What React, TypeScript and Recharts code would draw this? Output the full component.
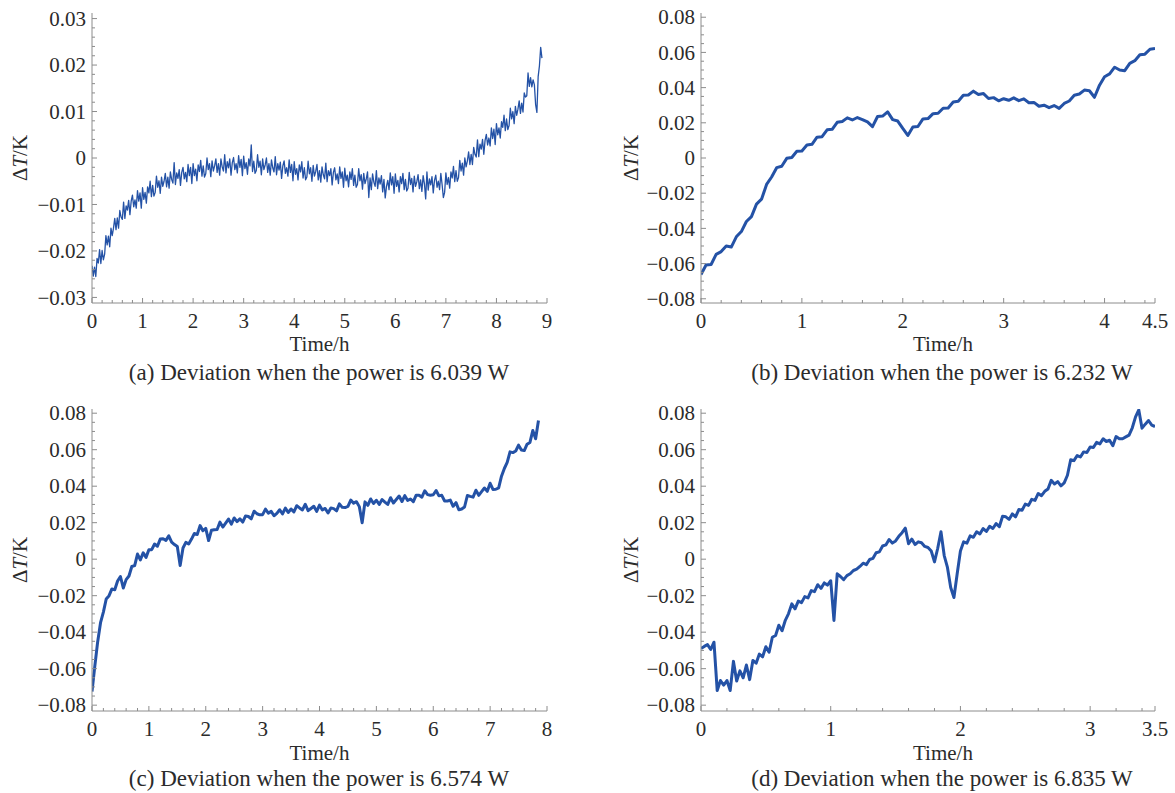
import { LineChart, Line, XAxis, YAxis } from "recharts";

const FONT = '"Liberation Serif", "Times New Roman", serif';
const LINE_COLOR = "#2452a6";
const FRAME_COLOR = "#8c8c8c";
const TEXT_COLOR = "#2b2b2b";

// (a) 6.039 W, read every 0.025 h (values in mK, converted below)
const stepA = 0.025;
const deviationA_mK = [
  -23.2, -25.4, -23.5, -25.5, -21.6, -22.6, -19.7, -22.7, -19.9, -21.9,
  -20.7, -16.7, -18.7, -16.8, -19.1, -15.1, -16.7, -15.1, -13.0, -15.4,
  -12.9, -15.1, -11.3, -12.7, -13.2, -9.5, -13.0, -10.3, -11.2, -9.1,
  -12.2, -9.3, -8.0, -10.5, -9.0, -10.8, -7.0, -9.3, -7.5, -10.8,
  -6.4, -8.9, -7.4, -9.7, -6.2, -7.5, -5.0, -8.3, -5.9, -8.2,
  -7.4, -3.9, -6.3, -4.9, -7.6, -4.1, -6.1, -5.0, -3.3, -6.2,
  -4.1, -6.5, -3.0, -4.6, -5.4, -1.0, -5.7, -3.2, -4.4, -2.5,
  -5.9, -3.1, -2.0, -4.5, -3.1, -5.1, -1.4, -3.8, -2.0, -5.5,
  -1.2, -3.8, -2.4, -4.9, -1.5, -2.9, -0.5, -3.9, -1.7, -4.1,
  -3.4, 0.0, -2.5, -1.2, -4.0, -0.6, -2.8, -1.7, -0.2, -3.1,
  -1.2, -3.7, -0.2, -1.9, -2.8, 0.7, -3.2, -0.8, -2.1, -0.2,
  -3.7, -1.0, 0.1, -2.5, -1.2, -3.2, 0.5, -2.0, -0.3, -3.8,
  0.4, -2.3, -1.0, -3.5, -0.2, -1.7, 2.8, -2.9, -0.7, -3.3,
  -2.7, 0.7, -2.0, -0.7, -3.6, -0.2, -2.5, -1.5, 0.0, -3.1,
  -1.2, -3.7, -0.4, -2.1, -3.0, 0.3, -3.6, -1.2, -2.6, -0.9,
  -4.4, -1.7, -0.6, -3.3, -2.1, -3.9, -0.4, -3.1, -1.4, -4.9,
  -0.8, -3.5, -2.3, -4.7, -1.5, -3.0, -0.8, -4.3, -2.1, -4.7,
  -4.1, -0.7, -3.4, -2.1, -5.0, -1.6, -3.9, -2.9, -1.4, -4.7,
  -2.7, -5.2, -1.9, -3.6, -4.5, -1.1, -5.1, -2.7, -3.8, -2.3,
  -5.8, -3.1, -2.1, -4.7, -3.4, -5.5, -1.9, -4.4, -3.0, -6.3,
  -2.2, -4.9, -3.7, -6.2, -3.0, -4.6, -2.3, -5.9, -3.7, -6.3,
  -5.7, -2.3, -4.9, -3.6, -6.7, -3.3, -5.5, -4.5, -3.0, -8.5,
  -4.3, -6.8, -3.4, -5.2, -6.1, -2.7, -6.6, -4.3, -5.6, -3.8,
  -7.3, -4.6, -8.6, -6.1, -4.8, -6.8, -3.2, -5.8, -4.0, -7.6,
  -3.4, -6.1, -4.8, -7.3, -4.0, -5.5, -3.3, -6.8, -4.6, -7.1,
  -6.5, -3.1, -5.7, -4.4, -7.3, -3.9, -6.1, -5.1, -3.6, -6.6,
  -4.7, -7.2, -3.8, -5.5, -8.8, -3.0, -6.9, -4.5, -5.8, -4.0,
  -7.5, -4.8, -3.7, -6.3, -5.0, -6.8, -3.3, -5.7, -8.5, -7.4,
  -3.2, -5.7, -4.2, -6.5, -3.0, -4.3, -1.8, -5.1, -2.7, -5.0,
  -4.2, -0.5, -2.8, -1.1, -3.7, 0.0, -1.9, -0.6, 1.3, -1.4,
  0.8, -1.4, 2.3, 0.8, 0.2, 3.9, 0.3, 3.0, 1.9, 4.0,
  0.8, 3.8, 5.1, 2.8, 4.3, 2.6, 6.5, 4.2, 6.2, 2.9,
  7.4, 5.0, 6.5, 4.3, 7.8, 6.6, 9.2, 5.9, 8.4, 6.1,
  7.0, 10.7, 8.4, 10.0, 7.4, 11.1, 9.2, 10.5, 12.3, 9.6,
  11.8, 9.9, 14.0, 13.1, 13.4, 18.3, 15.4, 17.3, 15.3, 16.8,
  15.8, 11.5, 9.8, 17.5, 19.8, 23.8, 21.5,
];

// (b) 6.232 W, read every 0.05 h
const stepB = 0.05;
const deviationB = [
  -0.0662, -0.0608, -0.0605, -0.0548, -0.0532, -0.05, -0.0506, -0.0448, -0.0418, -0.0361,
  -0.0333, -0.0262, -0.0234, -0.015, -0.0108, -0.0055, -0.0047, -0.0002, 0.0003, 0.0038,
  0.004, 0.0074, 0.0078, 0.0118, 0.0121, 0.016, 0.0163, 0.0203, 0.0208, 0.0228,
  0.0216, 0.023, 0.0218, 0.0205, 0.0178, 0.0236, 0.0238, 0.0262, 0.0218, 0.021,
  0.0168, 0.0128, 0.0176, 0.0179, 0.0222, 0.0224, 0.0252, 0.0254, 0.0283, 0.0284,
  0.0318, 0.0323, 0.0357, 0.0358, 0.038, 0.0361, 0.0366, 0.0338, 0.0343, 0.0325,
  0.0337, 0.0328, 0.0342, 0.0326, 0.0336, 0.0314, 0.0316, 0.0294, 0.03, 0.0286,
  0.0298, 0.0282, 0.031, 0.0324, 0.0357, 0.0364, 0.0386, 0.0382, 0.0345, 0.0414,
  0.0462, 0.0478, 0.0516, 0.05, 0.0496, 0.0538, 0.0553, 0.0587, 0.059, 0.0618,
  0.0622,
];

// (c) 6.574 W, read every 0.05 h (mK)
const stepC = 0.05;
const deviationC_mK = [
  -72.5, -58.5, -45.2, -34.8, -29.0, -21.8, -20.0, -16.3, -16.8, -12.0,
  -9.5, -15.8, -11.2, -9.2, -4.0, -3.5, 2.8, -0.4, 3.5, 1.0,
  5.2, 5.2, 8.3, 7.1, 11.0, 11.2, 10.3, 12.8, 9.4, 8.0,
  6.9, -3.5, 6.1, 9.2, 8.3, 11.0, 14.1, 13.5, 18.4, 15.6,
  16.9, 10.2, 15.8, 16.1, 16.3, 20.3, 17.6, 19.8, 22.0, 19.2,
  22.6, 20.6, 22.1, 20.3, 23.7, 23.4, 22.1, 26.3, 24.9, 24.3,
  24.4, 27.4, 25.2, 26.2, 23.8, 25.1, 27.1, 24.8, 28.0, 25.6,
  27.5, 25.9, 29.3, 28.1, 27.0, 30.1, 26.6, 27.8, 29.0, 26.2,
  29.6, 27.0, 27.8, 25.3, 28.0, 27.7, 26.5, 30.3, 28.4, 28.3,
  28.9, 32.4, 30.7, 31.5, 28.8, 20.0, 31.4, 29.5, 33.0, 30.5,
  32.3, 30.0, 32.7, 31.3, 30.0, 33.7, 30.8, 32.7, 34.6, 31.6,
  34.8, 32.2, 33.0, 31.5, 35.1, 35.0, 34.0, 37.5, 35.4, 35.0,
  35.3, 37.6, 34.7, 35.0, 31.9, 31.9, 32.4, 29.0, 31.0, 27.1,
  27.5, 28.6, 34.9, 34.4, 34.0, 37.8, 35.0, 37.0, 39.0, 37.2,
  41.6, 38.2, 38.3, 39.1, 45.5, 49.7, 53.0, 58.8, 58.4, 59.3,
  62.5, 59.8, 59.5, 63.0, 64.0, 70.5, 66.0, 76.0,
];

// (d) 6.835 W, read every 0.025 h
const stepD = 0.025;
const deviationD = [
  -0.049, -0.0478, -0.0468, -0.0495, -0.0455, -0.072, -0.0665, -0.069, -0.0665, -0.072,
  -0.056, -0.0668, -0.0612, -0.065, -0.058, -0.066, -0.0555, -0.057, -0.052, -0.0535,
  -0.048, -0.051, -0.0428, -0.0418, -0.0362, -0.0392, -0.0335, -0.0298, -0.0245, -0.0272,
  -0.023, -0.0238, -0.0205, -0.0212, -0.0172, -0.0178, -0.014, -0.016, -0.013, -0.0142,
  -0.0118, -0.0336, -0.008, -0.0095, -0.0112, -0.009, -0.008, -0.0062, -0.0055, -0.004,
  -0.0022, -0.003, -0.0002, 0.0004, 0.0035, 0.004, 0.0072, 0.0078, 0.0108, 0.0088,
  0.01, 0.0125, 0.0145, 0.017, 0.0085, 0.011, 0.008, 0.0095, 0.009, 0.007,
  0.0064, 0.0045, -0.0015, 0.006, 0.015, 0.002, -0.0045, -0.0155, -0.021, -0.008,
  0.0045, 0.0095, 0.0088, 0.0128, 0.012, 0.015, 0.0138, 0.0168, 0.0152, 0.018,
  0.0168, 0.0195, 0.0178, 0.0235, 0.0232, 0.0218, 0.0248, 0.0232, 0.0272, 0.0268,
  0.0302, 0.0295, 0.0328, 0.0322, 0.036, 0.0348, 0.0372, 0.0385, 0.0432, 0.0412,
  0.0425, 0.0402, 0.0418, 0.046, 0.0545, 0.054, 0.0568, 0.056, 0.0588, 0.0585,
  0.0615, 0.0612, 0.064, 0.0632, 0.066, 0.0645, 0.0652, 0.0622, 0.0672, 0.066,
  0.066, 0.067, 0.068, 0.072, 0.078, 0.0818, 0.0718, 0.074, 0.076, 0.0735,
  0.0727,
];

const xTicksA = [0, 1, 2, 3, 4, 5, 6, 7, 8, 9];
const xTicksB = [0, 1, 2, 3, 4, 4.5];
const xTicksC = [0, 1, 2, 3, 4, 5, 6, 7, 8];
const xTicksD = [0, 1, 2, 3, 3.5];
const yTicksA = [-0.03, -0.02, -0.01, 0, 0.01, 0.02, 0.03];
const yTicksBCD = [-0.08, -0.06, -0.04, -0.02, 0, 0.02, 0.04, 0.06, 0.08];

const captions = [
  "(a) Deviation when the power is 6.039 W",
  "(b) Deviation when the power is 6.232 W",
  "(c) Deviation when the power is 6.574 W",
  "(d) Deviation when the power is 6.835 W",
];

const toRows = (values: number[], step: number, scale = 1) =>
  values.map((v, i) => ({ t: Math.round(i * step * 1000) / 1000, v: v * scale }));

const fmtY = (v: number) =>
  Math.abs(v) < 1e-12 ? "0" : (v < 0 ? "\u2212" : "") + Math.abs(v).toFixed(2);
const fmtX = (v: number) => String(v);

// major + minor tick positions for the frame
function frameTicks(domain: [number, number], majors: number[], step: number) {
  const out = [...majors];
  const k0 = Math.ceil(domain[0] / step - 1e-6);
  const k1 = Math.floor(domain[1] / step + 1e-6);
  for (let k = k0; k <= k1; k++) {
    const v = Math.round(k * step * 1e6) / 1e6;
    if (!majors.some((m) => Math.abs(m - v) < step / 10)) out.push(v);
  }
  return out.sort((a, b) => a - b);
}

type Side = "bottom" | "top" | "left" | "right";

function frameTick(side: Side, majors: number[], fmt?: (v: number) => string) {
  return (props: any) => {
    const { x, y, payload } = props;
    const v = payload.value as number;
    const major = majors.some((m) => Math.abs(m - v) < 1e-9);
    const len = major ? 5 : 3;
    const dx = side === "left" ? len : side === "right" ? -len : 0;
    const dy = side === "bottom" ? -len : side === "top" ? len : 0;
    return (
      <g>
        <line x1={x} y1={y} x2={x + dx} y2={y + dy} stroke={FRAME_COLOR} strokeWidth={1} />
        {major && fmt && side === "bottom" && (
          <text x={x} y={y + 25} textAnchor="middle" fontFamily={FONT} fontSize={21} fill={TEXT_COLOR}>
            {fmt(v)}
          </text>
        )}
        {major && fmt && side === "left" && (
          <text x={x - 6} y={y} dy="0.34em" textAnchor="end" fontFamily={FONT} fontSize={21} fill={TEXT_COLOR}>
            {fmt(v)}
          </text>
        )}
      </g>
    );
  };
}

interface PanelProps {
  left: number;
  top: number;
  width: number;
  height: number;
  margin: { top: number; right: number; bottom: number; left: number };
  yAxisWidth: number;
  xAxisHeight: number;
  data: { t: number; v: number }[];
  xDomain: [number, number];
  yDomain: [number, number];
  xMajor: number[];
  yMajor: number[];
  xMinorStep: number;
  yMinorStep: number;
  strokeWidth: number;
}

function Panel(p: PanelProps) {
  const xAll = frameTicks(p.xDomain, p.xMajor, p.xMinorStep);
  const yAll = frameTicks(p.yDomain, p.yMajor, p.yMinorStep);
  const axisCommon = {
    type: "number" as const,
    allowDataOverflow: true,
    interval: 0 as const,
    tickSize: 0,
    tickMargin: 0,
    tickLine: false,
    axisLine: { stroke: FRAME_COLOR, strokeWidth: 1 },
  };
  return (
    <div style={{ position: "absolute", left: p.left, top: p.top }}>
      <LineChart width={p.width} height={p.height} data={p.data} margin={p.margin}>
        <XAxis {...axisCommon} xAxisId="b" dataKey="t" orientation="bottom" height={p.xAxisHeight}
          domain={p.xDomain} ticks={xAll} tick={frameTick("bottom", p.xMajor, fmtX)} />
        <XAxis {...axisCommon} xAxisId="t" dataKey="t" orientation="top" height={0}
          domain={p.xDomain} ticks={xAll} tick={frameTick("top", p.xMajor)} />
        <YAxis {...axisCommon} yAxisId="l" orientation="left" width={p.yAxisWidth}
          domain={p.yDomain} ticks={yAll} tick={frameTick("left", p.yMajor, fmtY)} />
        <YAxis {...axisCommon} yAxisId="r" orientation="right" width={0}
          domain={p.yDomain} ticks={yAll} tick={frameTick("right", p.yMajor)} />
        <Line xAxisId="b" yAxisId="l" type="linear" dataKey="v" stroke={LINE_COLOR}
          strokeWidth={p.strokeWidth} strokeLinejoin="round" dot={false} isAnimationActive={false} />
      </LineChart>
    </div>
  );
}

export default function App() {
  const yLabel = (x: number, y: number) => (
    <text x={x} y={y} transform={`rotate(-90 ${x} ${y})`} textAnchor="middle" dominantBaseline="central"
      fontFamily={FONT} fontSize={21} fill={TEXT_COLOR}>
      Δ<tspan fontStyle="italic">T</tspan>/K
    </text>
  );
  const text = (x: number, y: number, s: string, size: number) => (
    <text x={x} y={y} textAnchor="middle" fontFamily={FONT} fontSize={size} fill={TEXT_COLOR}>
      {s}
    </text>
  );
  return (
    <div style={{ position: "absolute", left: 0, top: 0, width: 1175, height: 793, background: "#fff" }}>
      <Panel left={0} top={0} width={560} height={340}
        margin={{ top: 13, right: 13, bottom: 10, left: 0 }} yAxisWidth={92} xAxisHeight={27}
        data={toRows(deviationA_mK, stepA, 0.001)} xDomain={[0, 9]} yDomain={[-0.0312, 0.0312]}
        xMajor={xTicksA} yMajor={yTicksA} xMinorStep={0.2} yMinorStep={0.002} strokeWidth={1.3} />
      <Panel left={600} top={0} width={570} height={340}
        margin={{ top: 13, right: 15, bottom: 10, left: 0 }} yAxisWidth={101} xAxisHeight={27}
        data={toRows(deviationB, stepB)} xDomain={[0, 4.5]} yDomain={[-0.0824, 0.0824]}
        xMajor={xTicksB} yMajor={yTicksBCD} xMinorStep={0.2} yMinorStep={0.005} strokeWidth={3} />
      <Panel left={0} top={400} width={560} height={350}
        margin={{ top: 9, right: 13, bottom: 10, left: 0 }} yAxisWidth={92} xAxisHeight={29}
        data={toRows(deviationC_mK, stepC, 0.001)} xDomain={[0, 8]} yDomain={[-0.0832, 0.0823]}
        xMajor={xTicksC} yMajor={yTicksBCD} xMinorStep={0.2} yMinorStep={0.005} strokeWidth={3} />
      <Panel left={600} top={400} width={570} height={350}
        margin={{ top: 9, right: 15, bottom: 10, left: 0 }} yAxisWidth={101} xAxisHeight={29}
        data={toRows(deviationD, stepD)} xDomain={[0, 3.5]} yDomain={[-0.0832, 0.0823]}
        xMajor={xTicksD} yMajor={yTicksBCD} xMinorStep={0.2} yMinorStep={0.005} strokeWidth={3} />
      <svg width={1175} height={793} style={{ position: "absolute", left: 0, top: 0, pointerEvents: "none" }}>
        {yLabel(19.5, 158)}
        {yLabel(631, 158)}
        {yLabel(19.5, 560)}
        {yLabel(631, 560)}
        {text(319.5, 351, "Time/h", 21)}
        {text(943, 351, "Time/h", 21)}
        {text(319.5, 760, "Time/h", 21)}
        {text(943, 760, "Time/h", 21)}
        {text(319, 380, captions[0], 23)}
        {text(942, 380, captions[1], 23)}
        {text(319, 786, captions[2], 23)}
        {text(942, 786, captions[3], 23)}
      </svg>
    </div>
  );
}
